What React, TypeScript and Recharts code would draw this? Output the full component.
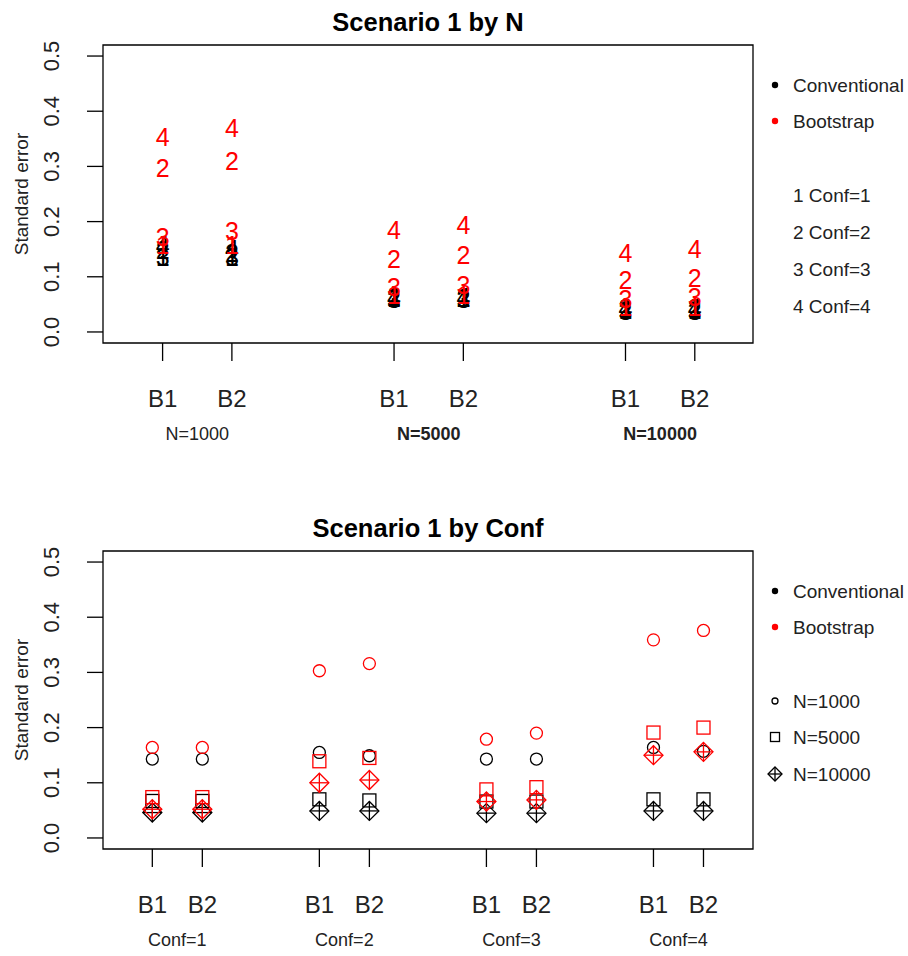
import React from "react";
import { ScatterChart, Scatter, XAxis, YAxis, ReferenceArea } from "recharts";

const N_LABELS = ["N=1000", "N=5000", "N=10000"];
const CONF_LABELS = ["Conf=1", "Conf=2", "Conf=3", "Conf=4"];
const B_LABELS = ["B1", "B2"];
const Y_TICKS = [0, 0.1, 0.2, 0.3, 0.4, 0.5];

// standard errors, ordered Conf=1 B1, Conf=1 B2, Conf=2 B1, ... Conf=4 B2
const convN1000 = [0.143, 0.143, 0.155, 0.149, 0.143, 0.143, 0.164, 0.157];
const bootN1000 = [0.164, 0.164, 0.303, 0.316, 0.179, 0.19, 0.359, 0.376];
const convN5000 = [0.067, 0.067, 0.07, 0.068, 0.066, 0.066, 0.07, 0.07];
const bootN5000 = [0.074, 0.074, 0.139, 0.145, 0.088, 0.092, 0.191, 0.2];
const convN10000 = [0.046, 0.046, 0.049, 0.049, 0.045, 0.045, 0.049, 0.049];
const bootN10000 = [0.052, 0.052, 0.1, 0.105, 0.066, 0.069, 0.15, 0.156];

const CONV = [convN1000, convN5000, convN10000];
const BOOT = [bootN1000, bootN5000, bootN10000];

const FONT = "'Liberation Sans', Arial, sans-serif";
const RED = "#ff0000";
const W = 908;
const H = 478;
const GAP = 3.34; // distance between group starts, in x units
const PLOT_LEFT = 103;
const PLOT_RIGHT = 753;
const Y_DOMAIN: [number, number] = [-0.02, 0.52];
const TOP_X_DOMAIN: [number, number] = [0.14, 9.52];
const BOT_X_DOMAIN: [number, number] = [0.014, 13.01];

const pos = (g: number, b: number) => 1 + GAP * g + b;

// top panel: digits (conf number) by N
const topPoints = (vals: number[][]) =>
  N_LABELS.flatMap((_, g) =>
    CONF_LABELS.flatMap((_, c) =>
      B_LABELS.map((_, b) => ({ x: pos(g, b), y: vals[g][c * 2 + b], label: String(c + 1) }))
    )
  );
const topConv = topPoints(CONV);
const topBoot = topPoints(BOOT);
const TOP_TICKS = N_LABELS.flatMap((_, g) => B_LABELS.map((_, b) => pos(g, b)));

// bottom panel: shape by N, grouped by conf
const botPoints = (vals: number[]) =>
  CONF_LABELS.flatMap((_, c) => B_LABELS.map((_, b) => ({ x: pos(c, b), y: vals[c * 2 + b] })));
const BOT_TICKS = CONF_LABELS.flatMap((_, c) => B_LABELS.map((_, b) => pos(c, b)));

function Circle({ cx, cy, color, r = 6 }: any) {
  return <circle cx={cx} cy={cy} r={r} fill="none" stroke={color} strokeWidth={1.3} />;
}
function Square({ cx, cy, color, s = 6.5 }: any) {
  return <rect x={cx - s} y={cy - s} width={s * 2} height={s * 2} fill="none" stroke={color} strokeWidth={1.3} />;
}
function DiamondPlus({ cx, cy, color, d = 9.5 }: any) {
  return (
    <g stroke={color} strokeWidth={1.3} fill="none">
      <path d={`M${cx},${cy - d}L${cx + d},${cy}L${cx},${cy + d}L${cx - d},${cy}Z`} />
      <line x1={cx - d} y1={cy} x2={cx + d} y2={cy} />
      <line x1={cx} y1={cy - d} x2={cx} y2={cy + d} />
    </g>
  );
}
function Digit({ cx, cy, payload, color }: any) {
  return (
    <text x={cx} y={cy + 12.5} textAnchor="middle" fontSize={25} fontFamily={FONT} fill={color}>
      {payload.label}
    </text>
  );
}

function yTick(props: any) {
  const { y, payload } = props;
  return (
    <g>
      <line x1={PLOT_LEFT - 16} y1={y} x2={PLOT_LEFT} y2={y} stroke="#000" strokeWidth={1.3} />
      <text
        x={52}
        y={y}
        transform={`rotate(-90, 52, ${y})`}
        textAnchor="middle"
        dominantBaseline="central"
        fontSize={22}
        fontFamily={FONT}
        fill="#222"
      >
        {payload.value.toFixed(1)}
      </text>
    </g>
  );
}

function makeXTick(plotBottom: number, domain: [number, number], groups: string[], bold: boolean[]) {
  const half = (0.5 * (PLOT_RIGHT - PLOT_LEFT)) / (domain[1] - domain[0]);
  return (props: any) => {
    const { x, index } = props;
    const g = Math.floor(index / 2);
    const b = index % 2;
    return (
      <g>
        <line x1={x} y1={plotBottom} x2={x} y2={plotBottom + 18} stroke="#000" strokeWidth={1.3} />
        <text x={x} y={plotBottom + 55} textAnchor="middle" dominantBaseline="central" fontSize={24} fontFamily={FONT} fill="#222">
          {B_LABELS[b]}
        </text>
        {b === 0 && (
          <text
            x={x + half}
            y={plotBottom + 91}
            textAnchor="middle"
            dominantBaseline="central"
            fontSize={18}
            fontWeight={bold[g] ? "bold" : "normal"}
            fontFamily={FONT}
            fill="#222"
          >
            {groups[g]}
          </text>
        )}
      </g>
    );
  };
}

// title, y label and legend; coordinates are local to the panel
function Overlay({ plotTop, title, rows }: { plotTop: number; title: string; rows: { y: number; icon: React.ReactNode; text: string }[] }) {
  const cy = plotTop + 149;
  return (
    <svg width={W} height={H} style={{ position: "absolute", left: 0, top: 0, pointerEvents: "none" }}>
      <text x={(PLOT_LEFT + PLOT_RIGHT) / 2} y={plotTop - 23} textAnchor="middle" dominantBaseline="central" fontSize={25.5} fontWeight="bold" fontFamily={FONT} fill="#000">
        {title}
      </text>
      <text x={21} y={cy} transform={`rotate(-90, 21, ${cy})`} textAnchor="middle" dominantBaseline="central" fontSize={19} fontFamily={FONT} fill="#222">
        Standard error
      </text>
      {rows.map((r) => (
        <g key={r.text}>
          {r.icon}
          <text x={793} y={r.y} dominantBaseline="central" fontSize={19} fontFamily={FONT} fill="#222">
            {r.text}
          </text>
        </g>
      ))}
    </svg>
  );
}

function TopPanel() {
  return (
    <div style={{ position: "absolute", left: 0, top: 0, width: W, height: H }}>
      <ScatterChart width={W} height={H} margin={{ top: 45, right: W - PLOT_RIGHT, bottom: 0, left: 0 }}>
        <XAxis
          type="number"
          dataKey="x"
          domain={TOP_X_DOMAIN}
          ticks={TOP_TICKS}
          interval={0}
          allowDataOverflow
          axisLine={false}
          tickLine={false}
          height={135}
          tick={makeXTick(343, TOP_X_DOMAIN, N_LABELS, [false, true, true])}
        />
        <YAxis type="number" dataKey="y" domain={Y_DOMAIN} ticks={Y_TICKS} allowDataOverflow axisLine={false} tickLine={false} width={PLOT_LEFT} tick={yTick} />
        <Scatter data={topConv} isAnimationActive={false} shape={(p: any) => <Digit {...p} color="#000" />} />
        <Scatter data={topBoot} isAnimationActive={false} shape={(p: any) => <Digit {...p} color={RED} />} />
        <ReferenceArea x1={TOP_X_DOMAIN[0]} x2={TOP_X_DOMAIN[1]} y1={Y_DOMAIN[0]} y2={Y_DOMAIN[1]} fill="none" stroke="#000" strokeWidth={1.3} ifOverflow="visible" />
      </ScatterChart>
      <Overlay
        plotTop={45}
        title="Scenario 1 by N"
        rows={[
          { y: 85, icon: <circle cx={775} cy={85} r={3.2} fill="#000" />, text: "Conventional" },
          { y: 121, icon: <circle cx={775} cy={121} r={3.2} fill={RED} />, text: "Bootstrap" },
          ...CONF_LABELS.map((c, i) => ({ y: 195 + i * 37, icon: null, text: `${i + 1} ${c}` })),
        ]}
      />
    </div>
  );
}

function BottomPanel() {
  const shapes = [Circle, Square, DiamondPlus];
  return (
    <div style={{ position: "absolute", left: 0, top: H, width: W, height: H }}>
      <ScatterChart width={W} height={H} margin={{ top: 73, right: W - PLOT_RIGHT, bottom: 0, left: 0 }}>
        <XAxis
          type="number"
          dataKey="x"
          domain={BOT_X_DOMAIN}
          ticks={BOT_TICKS}
          interval={0}
          allowDataOverflow
          axisLine={false}
          tickLine={false}
          height={107}
          tick={makeXTick(371, BOT_X_DOMAIN, CONF_LABELS, [false, false, false, false])}
        />
        <YAxis type="number" dataKey="y" domain={Y_DOMAIN} ticks={Y_TICKS} allowDataOverflow axisLine={false} tickLine={false} width={PLOT_LEFT} tick={yTick} />
        {N_LABELS.map((n, i) => {
          const Shape = shapes[i];
          return (
            <Scatter key={"c" + n} data={botPoints(CONV[i])} isAnimationActive={false} shape={(p: any) => <Shape cx={p.cx} cy={p.cy} color="#000" />} />
          );
        })}
        {N_LABELS.map((n, i) => {
          const Shape = shapes[i];
          return (
            <Scatter key={"b" + n} data={botPoints(BOOT[i])} isAnimationActive={false} shape={(p: any) => <Shape cx={p.cx} cy={p.cy} color={RED} />} />
          );
        })}
        <ReferenceArea x1={BOT_X_DOMAIN[0]} x2={BOT_X_DOMAIN[1]} y1={Y_DOMAIN[0]} y2={Y_DOMAIN[1]} fill="none" stroke="#000" strokeWidth={1.3} ifOverflow="visible" />
      </ScatterChart>
      <Overlay
        plotTop={73}
        title="Scenario 1 by Conf"
        rows={[
          { y: 591 - H, icon: <circle cx={775} cy={591 - H} r={3.2} fill="#000" />, text: "Conventional" },
          { y: 627 - H, icon: <circle cx={775} cy={627 - H} r={3.2} fill={RED} />, text: "Bootstrap" },
          { y: 701 - H, icon: <Circle cx={775} cy={701 - H} r={3} color="#000" />, text: "N=1000" },
          { y: 737 - H, icon: <Square cx={775} cy={737 - H} s={4.5} color="#000" />, text: "N=5000" },
          { y: 774 - H, icon: <DiamondPlus cx={775} cy={774 - H} d={7} color="#000" />, text: "N=10000" },
        ]}
      />
    </div>
  );
}

export default function App() {
  return (
    <div style={{ position: "absolute", left: 0, top: 0, width: W, height: 956, background: "#fff" }}>
      <TopPanel />
      <BottomPanel />
    </div>
  );
}
